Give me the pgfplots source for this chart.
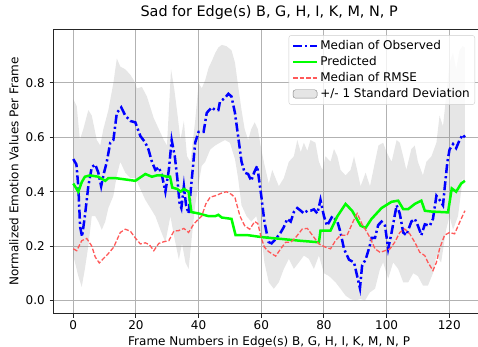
\documentclass[border=0pt]{standalone}
\usepackage{fontspec}
\setmainfont{DejaVu Sans}
\usepackage{pgfplots}
\pgfplotsset{compat=1.18}
\usepgfplotslibrary{fillbetween}
\definecolor{obsblue}{rgb}{0,0,1}
\definecolor{predgreen}{rgb}{0,1,0}
\definecolor{rmsered}{rgb}{1,0.35,0.35}
\begin{document}
\begin{tikzpicture}
\begin{axis}[
  at={(0pt,0pt)}, anchor=south west,
  scale only axis, width=430.8pt, height=284.2pt,
  xmin=-6.25, xmax=131.25, ymin=-0.0475, ymax=0.9975,
  xtick={0,20,40,60,80,100,120},
  ytick={0,0.2,0.4,0.6,0.8},
  /pgf/number format/assume math mode=true,
  ticklabel style={font=\fontsize{12}{14}\selectfont},
  xticklabel style={inner sep=0pt, yshift=-2.4pt},
  yticklabel style={/pgf/number format/fixed, /pgf/number format/fixed zerofill, /pgf/number format/precision=1, inner sep=0pt, xshift=-4.5pt},
  tick align=outside, tick pos=left,
  major tick length=4.2pt,
  tick style={black!85, line width=0.9pt},
  axis line style={black!85, line width=0.9pt},
  grid=major,
  major grid style={black!30, line width=1.1pt},
  title={Sad for Edge(s) B, G, H, I, K, M, N, P},
  title style={font=\fontsize{14.4}{17}\selectfont, at={(axis description cs:0.5,1)}, anchor=base, yshift=6.5pt},
  xlabel={Frame Numbers in Edge(s) B, G, H, I, K, M, N, P},
  ylabel={Normalized Emotion Values Per Frame},
  every axis x label/.style={at={(axis description cs:0.5,0)}, anchor=base, yshift=-32pt, font=\fontsize{12}{14}\selectfont},
  every axis y label/.style={at={(axis description cs:0,0.5)}, xshift=-35.3pt, rotate=90, anchor=base, inner sep=0pt, font=\fontsize{12}{14}\selectfont},
  legend style={at={(1,1)}, anchor=north east, xshift=-9.5pt, yshift=-6pt,
    draw=black!20, rounded corners=2.5pt, fill=white, fill opacity=0.8, text opacity=1,
    font=\fontsize{12}{14}\selectfont, inner xsep=3pt, inner ysep=3pt, row sep=0.8pt,
    nodes={inner sep=2pt, text height=8.7pt, text depth=2.5pt}},
  legend cell align=left,
  legend image code/.code={\draw[#1] (0pt,0pt) -- (24pt,0pt);},
]
% standard deviation band
\addplot[name path=up, draw=none, forget plot] coordinates {
(0,0.74)(1.1,0.715)(2.1,0.59)(3.2,0.63)(4.8,0.70)(5.9,0.68)(7.5,0.59)(8.6,0.57)(9.6,0.63)(11.2,0.70)(12.8,0.80)(13.9,0.89)(15,0.86)(16.6,0.85)(18.2,0.83)(19.3,0.81)(20.3,0.78)(21.9,0.785)(23.5,0.75)(24.6,0.71)(25.7,0.67)(27.3,0.63)(28.9,0.59)(29.9,0.57)(31.2,0.85)(32.2,0.78)(33.2,0.69)(34.2,0.59)(35.3,0.66)(36.3,0.53)(37.4,0.51)(38.9,0.66)(40,0.80)(41,0.78)(42.1,0.81)(43.2,0.856)(44.2,0.88)(45.3,0.91)(46.3,0.93)(47.4,0.94)(48.9,0.935)(50.5,0.92)(51.6,0.875)(52.6,0.79)(53.7,0.70)(54.7,0.63)(55.8,0.59)(56.8,0.63)(57.9,0.655)(58.9,0.63)(60,0.555)(61,0.50)(62.4,0.43)(63.5,0.48)(65.6,0.42)(67.2,0.45)(68.8,0.51)(70.4,0.53)(71.5,0.59)(72.6,0.545)(73.6,0.58)(74.7,0.55)(75.7,0.59)(77.3,0.58)(78.4,0.51)(79.5,0.48)(80.5,0.53)(82.1,0.51)(83.2,0.557)(84.3,0.53)(85.3,0.48)(86.9,0.46)(88.5,0.48)(89.6,0.53)(90.6,0.48)(91.7,0.42)(93.3,0.47)(94.7,0.42)(96.3,0.51)(97.4,0.57)(98.9,0.58)(100,0.545)(101.6,0.51)(103.2,0.59)(104.2,0.58)(105.3,0.53)(106.3,0.48)(107.9,0.557)(109,0.57)(110,0.51)(111.6,0.46)(112.7,0.51)(114.3,0.53)(115.9,0.58)(116.9,0.68)(118,0.64)(119,0.75)(120.1,0.875)(121.2,0.91)(122.2,0.85)(123.3,0.92)(124.3,0.935)(125,0.93)
};
\addplot[name path=lo, draw=none, forget plot] coordinates {
(0,0.165)(1.6,0.09)(2.7,0.05)(3.7,0.116)(4.8,0.20)(5.9,0.31)(7,0.31)(8,0.29)(9.1,0.26)(10.2,0.29)(11.2,0.34)(12.8,0.385)(13.9,0.46)(15,0.51)(16.6,0.47)(18.2,0.45)(19.8,0.45)(21.4,0.41)(23,0.37)(24.6,0.34)(26.2,0.31)(27.8,0.26)(29.4,0.214)(31,0.31)(32.1,0.24)(33.7,0.15)(34.7,0.21)(35.8,0.14)(36.8,0.116)(37.9,0.24)(38.9,0.35)(40,0.43)(41,0.495)(42.1,0.51)(43.7,0.555)(45.3,0.57)(46.8,0.58)(48.4,0.59)(50,0.58)(51.6,0.52)(52.6,0.45)(53.7,0.35)(55.3,0.31)(56.8,0.29)(58.4,0.31)(60,0.24)(61,0.14)(62.4,0.067)(64,0.043)(65.6,0.067)(67.2,0.116)(68.8,0.153)(70.4,0.116)(72,0.14)(73.6,0.165)(75.2,0.153)(76.8,0.116)(78.4,0.165)(80,0.10)(81.6,0.09)(83.7,0.067)(85.3,0.043)(86.9,0.018)(88.5,0.005)(90,0.0)(91.7,0.005)(93.1,0.0)(94.7,0.03)(96.3,0.043)(97.9,0.116)(98.9,0.14)(100.5,0.08)(102.1,0.14)(103.7,0.116)(105.3,0.067)(106.9,0.067)(108.5,0.10)(110,0.09)(111.6,0.055)(113.2,0.055)(114.8,0.10)(115.9,0.165)(117.4,0.14)(119,0.26)(120.1,0.31)(121.2,0.26)(122.8,0.31)(124.3,0.45)(125,0.43)
};
\addplot[fill=gray, fill opacity=0.2, draw=none, forget plot] fill between[of=up and lo];
% median of observed
\addplot[obsblue, line width=2.5pt, dash pattern=on 9pt off 3pt on 2.2pt off 3pt] coordinates {
(0,0.52)(1,0.50)(1.6,0.42)(2.2,0.27)(2.8,0.235)(3.7,0.31)(4.8,0.42)(5.9,0.49)(7,0.50)(8,0.47)(8.9,0.42)(9.6,0.46)(10.7,0.51)(11.8,0.58)(12.8,0.59)(13.9,0.69)(15.3,0.71)(16.6,0.68)(18.2,0.66)(19.8,0.655)(21.4,0.605)(23,0.58)(24,0.555)(25.1,0.51)(26.2,0.48)(27.3,0.49)(28.3,0.46)(29.4,0.40)(30.5,0.48)(31.4,0.59)(32.4,0.53)(33.2,0.45)(33.9,0.36)(34.5,0.34)(35.3,0.42)(36,0.35)(36.8,0.32)(37.7,0.43)(38.9,0.58)(40,0.62)(41.6,0.62)(42.6,0.69)(44.2,0.71)(45.3,0.70)(46.3,0.70)(46.8,0.73)(48.4,0.745)(49.5,0.76)(50.5,0.75)(51.6,0.69)(52.6,0.605)(53.7,0.51)(54.7,0.47)(55.8,0.465)(56.8,0.44)(57.7,0.47)(58.7,0.495)(60,0.385)(61,0.29)(62.3,0.215)(63.3,0.21)(64.6,0.226)(66.2,0.25)(67.2,0.27)(68.3,0.30)(69.4,0.29)(70.4,0.325)(71.5,0.34)(72.6,0.33)(73.6,0.32)(74.7,0.33)(75.7,0.33)(76.8,0.335)(77.9,0.32)(78.9,0.37)(80,0.31)(81,0.275)(82.7,0.31)(84.3,0.29)(85.3,0.25)(86.4,0.19)(88,0.15)(89.6,0.14)(90.6,0.09)(91.5,0.045)(92.2,0.13)(93.3,0.15)(94.6,0.20)(95.2,0.23)(96.3,0.23)(97.3,0.277)(98.4,0.29)(99.5,0.275)(100.5,0.19)(101.6,0.25)(103.2,0.35)(104.2,0.32)(105.3,0.25)(106.3,0.24)(107.9,0.29)(109,0.30)(110,0.275)(111.1,0.24)(112.2,0.28)(113.8,0.275)(114.8,0.30)(115.9,0.385)(116.9,0.37)(118,0.35)(118.5,0.41)(119.4,0.51)(120.1,0.555)(121.2,0.575)(122.2,0.56)(123.3,0.59)(124.3,0.61)(125,0.60)
};
\addlegendentry{Median of Observed}
% predicted
\addplot[predgreen, line width=2.5pt] coordinates {
(0,0.43)(1.6,0.40)(2.7,0.435)(3.7,0.455)(5.3,0.46)(8,0.455)(10.2,0.44)(11.2,0.45)(13.4,0.45)(19.8,0.44)(23,0.465)(25.1,0.455)(26.7,0.46)(28.3,0.46)(29.9,0.455)(30.9,0.455)(31.6,0.415)(33.2,0.41)(34.2,0.40)(35.3,0.41)(36.8,0.40)(37.7,0.325)(40,0.32)(43.2,0.31)(45.3,0.31)(46.3,0.315)(47.4,0.305)(50.5,0.30)(51.8,0.24)(52.6,0.24)(55.8,0.24)(58.9,0.235)(61,0.232)(66.7,0.226)(72,0.22)(78.4,0.214)(78.9,0.257)(82.1,0.257)(84.3,0.31)(86.9,0.355)(89,0.33)(91.7,0.275)(93.3,0.267)(95.2,0.30)(98.4,0.34)(101.6,0.363)(103.7,0.367)(105.3,0.336)(106.9,0.336)(109,0.355)(111.1,0.367)(112.2,0.33)(114.3,0.327)(119.6,0.324)(120.8,0.412)(122.2,0.40)(123.8,0.43)(125,0.44)
};
\addlegendentry{Predicted}
% median of RMSE
\addplot[rmsered, line width=1.3pt, dash pattern=on 4.5pt off 2pt] coordinates {
(0,0.19)(1.1,0.183)(2.7,0.22)(4.3,0.228)(5.9,0.20)(7,0.16)(8.3,0.138)(9.7,0.155)(11,0.17)(12.9,0.196)(15,0.25)(16.6,0.262)(18.2,0.255)(19.8,0.23)(21.4,0.208)(23,0.212)(24.3,0.205)(25.7,0.183)(27.3,0.21)(28.9,0.216)(30.5,0.22)(32.1,0.255)(33.7,0.257)(35.3,0.265)(36.8,0.25)(38.4,0.28)(40,0.30)(41,0.31)(42.3,0.355)(43.7,0.38)(45.3,0.385)(47.4,0.395)(48.9,0.40)(50.5,0.39)(51.6,0.378)(53.2,0.31)(54.7,0.275)(56.3,0.262)(57.9,0.29)(58.9,0.283)(60,0.23)(61,0.196)(62.3,0.18)(63,0.175)(64.6,0.163)(66.2,0.19)(67.8,0.214)(69.4,0.214)(71,0.232)(73.1,0.263)(74.7,0.265)(76.3,0.24)(78.4,0.208)(80.5,0.196)(82.1,0.19)(83.7,0.22)(85.3,0.24)(87.4,0.24)(89.3,0.29)(90.6,0.32)(92.2,0.28)(93.8,0.25)(94.9,0.226)(96.3,0.19)(97.9,0.177)(99.5,0.183)(101.1,0.19)(102.6,0.214)(104.2,0.25)(105.8,0.263)(107.4,0.245)(109,0.214)(110.6,0.177)(112.2,0.165)(113.2,0.14)(114.8,0.11)(115.9,0.14)(116.9,0.19)(118.5,0.24)(120.1,0.25)(121.7,0.245)(123.3,0.287)(125,0.33)
};
\addlegendentry{Median of RMSE}
\addlegendimage{legend image code/.code={\fill[gray, fill opacity=0.2] (0pt,-4.2pt) rectangle (24pt,4.2pt);}}
\addlegendentry{+/- 1 Standard Deviation}
\end{axis}
\pgfresetboundingbox
\path[use as bounding box] (-53.7pt,-33.6pt) rectangle (424.3pt,313.4pt);
\end{tikzpicture}
\end{document}
